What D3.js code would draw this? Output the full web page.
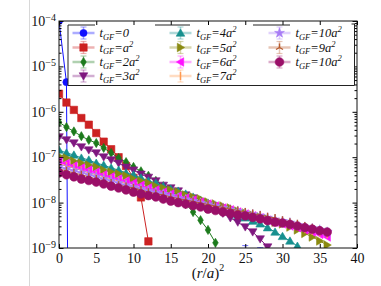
<!DOCTYPE html>
<html>
<head>
<meta charset="utf-8">
<script src="https://d3js.org/d3.v7.min.js"></script>
<style>
body { margin: 0; background: #fff; }
text { font-family: "Liberation Serif", "DejaVu Serif", serif; fill: #111; }
</style>
</head>
<body>
<div id="chart"></div>
<script>
// Define SVG area dimensions
var svgWidth = 381;
var svgHeight = 286;
var plot = { left: 59, right: 357, top: 21, bottom: 248 };

// (r/a)^2 positions of the measured points
var rsq = [0,1,2,3,4,5,6,7,8,9,10,11,12,13,14,15,16,17,18,19,20,21,22,23,24,25,26,27,28,29,30,31,32,33,34,35,36];

// t_GF = 0 : only the first points sit inside the plot range
var blueX = [0, 1, 2, 25, 27];
var blueVal = [1e-4, 4.5e-6, 1e-30, 5e-10, 4e-10];
var blueErrUp = [null, null, null, 1.13e-9, 1.02e-9];

var tA1 = [2.5e-6,1.6e-6,1.1e-6,7.3e-7,5.2e-7,3.4e-7,2.2e-7,1.5e-7,1.0e-7,6.4e-8,3.5e-8,1.3e-8,1.4e-9];
var tA2 = [5.9e-7,4.6e-7,3.7e-7,2.9e-7,2.4e-7,2.05e-7,1.6e-7,1.24e-7,9.6e-8,7.8e-8,6.1e-8,4.9e-8,3.9e-8,3.0e-8,2.3e-8,1.8e-8,1.33e-8,9.3e-9,6.2e-9,4.1e-9,2.5e-9,1.3e-9];
var tA3 = [2.8e-7,2.4e-7,2.05e-7,1.68e-7,1.44e-7,1.24e-7,1.01e-7,8.7e-8,7.4e-8,6.0e-8,5.2e-8,4.2e-8,3.6e-8,3.0e-8,2.4e-8,2.1e-8,1.8e-8,1.47e-8,1.26e-8,1.03e-8,8.8e-9,7.1e-9,5.8e-9,4.6e-9,3.7e-9,2.9e-9,2.25e-9,1.58e-9,1.05e-9];
var tA4 = [1.44e-7,1.24e-7,1.12e-7,9.6e-8,8.7e-8,7.4e-8,6.7e-8,5.8e-8,5.2e-8,4.5e-8,4.1e-8,3.5e-8,3.0e-8,2.7e-8,2.3e-8,2.0e-8,1.8e-8,1.55e-8,1.33e-8,1.14e-8,9.8e-9,8.4e-9,7.2e-9,6.2e-9,5.3e-9,4.6e-9,3.9e-9,3.4e-9,2.8e-9,2.25e-9,1.8e-9,1.43e-9,1.1e-9];
var tA5 = [1.06e-7,9.6e-8,8.2e-8,7.4e-8,6.7e-8,6.1e-8,5.2e-8,4.7e-8,4.3e-8,3.9e-8,3.3e-8,3.0e-8,2.7e-8,2.3e-8,2.1e-8,1.9e-8,1.7e-8,1.47e-8,1.33e-8,1.2e-8,1.03e-8,9.3e-9,8.4e-9,7.6e-9,6.5e-9,5.9e-9,5.3e-9,4.8e-9,4.4e-9,3.7e-9,3.4e-9,2.9e-9,2.5e-9,2.1e-9,1.75e-9,1.43e-9,1.16e-9];
var tA6 = [8.2e-8,7.3e-8,6.4e-8,5.8e-8,5.2e-8,4.7e-8,4.1e-8,3.7e-8,3.3e-8,3.0e-8,2.7e-8,2.4e-8,2.1e-8,1.9e-8,1.7e-8,1.55e-8,1.4e-8,1.26e-8,1.14e-8,1.03e-8,9.3e-9,8.4e-9,7.6e-9,6.9e-9,6.2e-9,5.6e-9,5.1e-9,4.6e-9,4.1e-9,3.7e-9,3.4e-9,3.05e-9,2.8e-9,2.5e-9,2.25e-9,2.0e-9,1.75e-9];
var tA7 = [7.1e-8,6.4e-8,5.8e-8,5.1e-8,4.5e-8,4.1e-8,3.7e-8,3.3e-8,3.0e-8,2.6e-8,2.3e-8,2.1e-8,1.9e-8,1.7e-8,1.55e-8,1.4e-8,1.26e-8,1.14e-8,1.03e-8,9.5e-9,8.8e-9,8.0e-9,7.2e-9,6.5e-9,6.0e-9,5.6e-9,5.1e-9,4.6e-9,4.1e-9,3.8e-9,3.6e-9,3.2e-9,2.9e-9,2.6e-9,2.4e-9,2.2e-9,2.0e-9];
var tA8 = [6.1e-8,5.5e-8,5.0e-8,4.5e-8,4.1e-8,3.7e-8,3.3e-8,3.0e-8,2.7e-8,2.4e-8,2.2e-8,2.0e-8,1.8e-8,1.67e-8,1.55e-8,1.4e-8,1.26e-8,1.17e-8,1.08e-8,9.8e-9,9.1e-9,8.4e-9,7.6e-9,7.0e-9,6.5e-9,5.9e-9,5.5e-9,5.1e-9,4.6e-9,4.2e-9,3.9e-9,3.6e-9,3.2e-9,2.9e-9,2.7e-9,2.5e-9,2.25e-9];
var tA9 = [5.5e-8,5.0e-8,4.5e-8,4.1e-8,3.7e-8,3.3e-8,3.0e-8,2.7e-8,2.4e-8,2.26e-8,2.1e-8,1.9e-8,1.7e-8,1.58e-8,1.47e-8,1.33e-8,1.23e-8,1.14e-8,1.06e-8,9.8e-9,9.1e-9,8.4e-9,7.8e-9,7.2e-9,6.7e-9,6.2e-9,5.75e-9,5.3e-9,4.9e-9,4.6e-9,4.1e-9,3.7e-9,3.4e-9,3.05e-9,2.8e-9,2.5e-9,2.25e-9];
var tA10 = [4.5e-8,4.1e-8,3.7e-8,3.3e-8,3.07e-8,2.84e-8,2.57e-8,2.3e-8,2.1e-8,1.9e-8,1.7e-8,1.55e-8,1.43e-8,1.33e-8,1.2e-8,1.08e-8,1.0e-8,9.3e-9,8.6e-9,8.0e-9,7.2e-9,6.7e-9,6.2e-9,5.75e-9,5.3e-9,5.1e-9,4.7e-9,4.4e-9,4.0e-9,3.7e-9,3.55e-9,3.3e-9,3.05e-9,2.8e-9,2.6e-9,2.4e-9,2.25e-9];

// legend labels (coefficient of a^2, "0" for t=0)
var labels = ["0", "a", "2a", "3a", "4a", "5a", "6a", "7a", "10a", "9a", "10a"];
var colors = ["#1010ff", "#cc2222", "#1c7a1c", "#7f187f", "#17908f", "#8a8a10", "#ff10ff", "#ff9a50", "#a77cf5", "#b65a2c", "#9a0f68"];
var shapes = ["circle", "square", "diamond", "tridown", "triup", "triright", "trileft", "vline", "star", "triy", "bigcircle"];
var valueLists = [null, tA1, tA2, tA3, tA4, tA5, tA6, tA7, tA8, tA9, tA10];

var series = labels.map(function(lab, i) {
  var pts;
  if (i === 0) {
    pts = blueX.map(function(r, j) { return { r: r, v: blueVal[j], up: blueErrUp[j] }; });
  } else {
    pts = valueLists[i].map(function(v, j) { return { r: rsq[j], v: v, up: null }; });
  }
  return { label: lab, color: colors[i], shape: shapes[i], points: pts };
});

var svg = d3.select("#chart")
  .append("svg")
  .attr("width", svgWidth)
  .attr("height", svgHeight);

// faint page edge on the left
svg.append("line")
  .attr("x1", 29.5).attr("x2", 29.5).attr("y1", 0).attr("y2", svgHeight)
  .attr("stroke", "#d8d8d8");

var x = d3.scaleLinear().domain([0, 40]).range([plot.left, plot.right]);
var y = d3.scaleLog().domain([1e-9, 1e-4]).range([plot.bottom, plot.top]);

svg.append("clipPath").attr("id", "clip")
  .append("rect")
  .attr("x", plot.left).attr("y", plot.top)
  .attr("width", plot.right - plot.left).attr("height", plot.bottom - plot.top);

// marker shapes
function markerPath(shape) {
  switch (shape) {
    case "circle": return d3.symbol(d3.symbolCircle, 40)();
    case "square": return "M-3.7,-3.7H3.7V3.7H-3.7Z";
    case "diamond": return "M0,-4.6L2.8,0L0,4.6L-2.8,0Z";
    case "tridown": return "M0,4.1L-4.3,-3.2L4.3,-3.2Z";
    case "triup": return "M0,-4.1L-4.3,3.2L4.3,3.2Z";
    case "triright": return "M4.1,0L-3.2,-4.3L-3.2,4.3Z";
    case "trileft": return "M-4.1,0L3.2,-4.3L3.2,4.3Z";
    case "vline": return "M0,-4V4";
    case "star": return d3.symbol(d3.symbolStar, 30)();
    case "triy": return "M0,0V-4M0,0L-3.5,2M0,0L3.5,2";
    case "bigcircle": return d3.symbol(d3.symbolCircle, 60)();
  }
}
function isStroked(shape) { return shape === "vline" || shape === "triy"; }

function drawMarker(g, s, cx, cy) {
  g.append("path")
    .attr("d", markerPath(s.shape))
    .attr("transform", "translate(" + cx + "," + cy + ")")
    .attr("fill", isStroked(s.shape) ? "none" : s.color)
    .attr("stroke", s.color)
    .attr("stroke-width", isStroked(s.shape) ? 1.4 : 0.6);
}

var dataGroup = svg.append("g").attr("clip-path", "url(#clip)");
var line = d3.line().x(function(d) { return x(d.r); }).y(function(d) { return y(d.v); });

series.forEach(function(s) {
  var g = dataGroup.append("g");
  g.append("path")
    .datum(s.points)
    .attr("d", line)
    .attr("fill", "none")
    .attr("stroke", s.color)
    .attr("stroke-width", 1);
  // error bars that reach into the plot
  s.points.filter(function(d) { return d.up; }).forEach(function(d) {
    g.append("line").attr("x1", x(d.r)).attr("x2", x(d.r))
      .attr("y1", y(d.v)).attr("y2", y(d.up))
      .attr("stroke", s.color).attr("stroke-opacity", 0.6);
    g.append("line").attr("x1", x(d.r) - 3).attr("x2", x(d.r) + 3)
      .attr("y1", y(d.up)).attr("y2", y(d.up))
      .attr("stroke", s.color).attr("stroke-opacity", 0.6);
  });
  s.points.forEach(function(d) {
    if (d.v >= 1e-10) drawMarker(g, s, x(d.r), y(d.v));
  });
});

// axes: ticks pointing inward on all four sides
var xTicks = [0, 5, 10, 15, 20, 25, 30, 35, 40];
var yMajor = [1e-9, 1e-8, 1e-7, 1e-6, 1e-5, 1e-4];
var yMinor = [];
yMajor.slice(0, 5).forEach(function(p) {
  [2, 3, 4, 5, 6, 7, 8, 9].forEach(function(m) { yMinor.push(m * p); });
});

svg.append("g")
  .attr("transform", "translate(0," + plot.bottom + ")")
  .call(d3.axisBottom(x).tickValues(xTicks).tickSizeInner(-4).tickSizeOuter(0).tickPadding(5))
  .call(function(g) {
    g.select(".domain").remove();
    g.selectAll("text").attr("font-size", 14).attr("font-family", "Liberation Serif, serif").attr("fill", "#111");
  });
svg.append("g")
  .attr("transform", "translate(0," + plot.top + ")")
  .call(d3.axisTop(x).tickValues(xTicks).tickSizeInner(-4).tickSizeOuter(0).tickFormat(""))
  .call(function(g) { g.select(".domain").remove(); });

[["left", plot.left, d3.axisLeft], ["right", plot.right, d3.axisRight]].forEach(function(a) {
  svg.append("g")
    .attr("transform", "translate(" + a[1] + ",0)")
    .call(a[2](y).tickValues(yMajor).tickSizeInner(-4.5).tickSizeOuter(0).tickFormat(""))
    .call(function(g) { g.select(".domain").remove(); });
  svg.append("g")
    .attr("transform", "translate(" + a[1] + ",0)")
    .call(a[2](y).tickValues(yMinor).tickSizeInner(-2.5).tickSizeOuter(0).tickFormat(""))
    .call(function(g) { g.select(".domain").remove(); });
});

// y tick labels 10^k
yMajor.forEach(function(v) {
  var t = svg.append("text")
    .attr("x", 56)
    .attr("y", y(v) + 5)
    .attr("text-anchor", "end")
    .attr("font-size", 14);
  t.append("tspan").text("10");
  t.append("tspan").attr("dy", -5).attr("font-size", 10)
    .text("\u2212" + Math.round(-Math.log10(v)));
});

// frame
svg.append("rect")
  .attr("x", plot.left).attr("y", plot.top)
  .attr("width", plot.right - plot.left).attr("height", plot.bottom - plot.top)
  .attr("fill", "none").attr("stroke", "#111").attr("stroke-width", 1);

// x label (r/a)^2
var xl = svg.append("text")
  .attr("x", (plot.left + plot.right) / 2)
  .attr("y", 278)
  .attr("text-anchor", "middle")
  .attr("font-size", 15);
xl.append("tspan").text("(");
xl.append("tspan").attr("font-style", "italic").text("r");
xl.append("tspan").text("/");
xl.append("tspan").attr("font-style", "italic").text("a");
xl.append("tspan").text(")");
xl.append("tspan").attr("dy", -7).attr("font-size", 10).text("2");

// legend
var leg = { left: 68, top: 25, right: 354.5, bottom: 85.5 };
var legG = svg.append("g");
legG.append("rect")
  .attr("x", leg.left).attr("y", leg.top)
  .attr("width", leg.right - leg.left).attr("height", leg.bottom - leg.top)
  .attr("fill", "#fff").attr("stroke", "none");
var legEdges = [
  [leg.left, leg.top, leg.left, leg.bottom],
  [leg.left, leg.bottom, leg.right, leg.bottom],
  [leg.right, leg.top - 1, leg.right, leg.bottom],
  [leg.right - 3, leg.top - 1, leg.right, leg.top - 1],
  [leg.left, leg.top, 95, leg.top],
  [155, leg.top, 190, leg.top],
  [253, leg.top, 290, leg.top]
];
legEdges.forEach(function(e) {
  legG.append("line")
    .attr("x1", e[0]).attr("y1", e[1]).attr("x2", e[2]).attr("y2", e[3])
    .attr("stroke", "#222").attr("stroke-width", 1);
});

var colX = [83.5, 180.5, 279.5];
var rowY = [33, 47.5, 62, 76];
series.forEach(function(s, i) {
  var col = Math.floor(i / 4), row = i % 4;
  var cx = colX[col], cy = rowY[row];
  legG.append("line")
    .attr("x1", cx - 11).attr("x2", cx + 11).attr("y1", cy).attr("y2", cy)
    .attr("stroke", s.color).attr("stroke-width", 2.5).attr("stroke-opacity", 0.35);
  legG.append("line")
    .attr("x1", cx).attr("x2", cx).attr("y1", cy - 6).attr("y2", cy + 6)
    .attr("stroke", s.color).attr("stroke-width", 1.5).attr("stroke-opacity", 0.35);
  [cy - 6, cy + 6].forEach(function(cyy) {
    legG.append("line")
      .attr("x1", cx - 3).attr("x2", cx + 3).attr("y1", cyy).attr("y2", cyy)
      .attr("stroke", s.color).attr("stroke-width", 1.2).attr("stroke-opacity", 0.35);
  });
  drawMarker(legG, s, cx, cy);

  var t = legG.append("text")
    .attr("x", cx + 16)
    .attr("y", cy + 4)
    .attr("font-size", 12.5)
    .attr("font-style", "italic");
  t.append("tspan").text("t");
  t.append("tspan").attr("dy", 2.5).attr("font-size", 8.5).text("GF");
  t.append("tspan").attr("dy", -2.5).text("=" + s.label);
  if (s.label !== "0") {
    t.append("tspan").attr("dy", -5).attr("font-size", 8.5).text("2");
  }
});
</script>
</body>
</html>
